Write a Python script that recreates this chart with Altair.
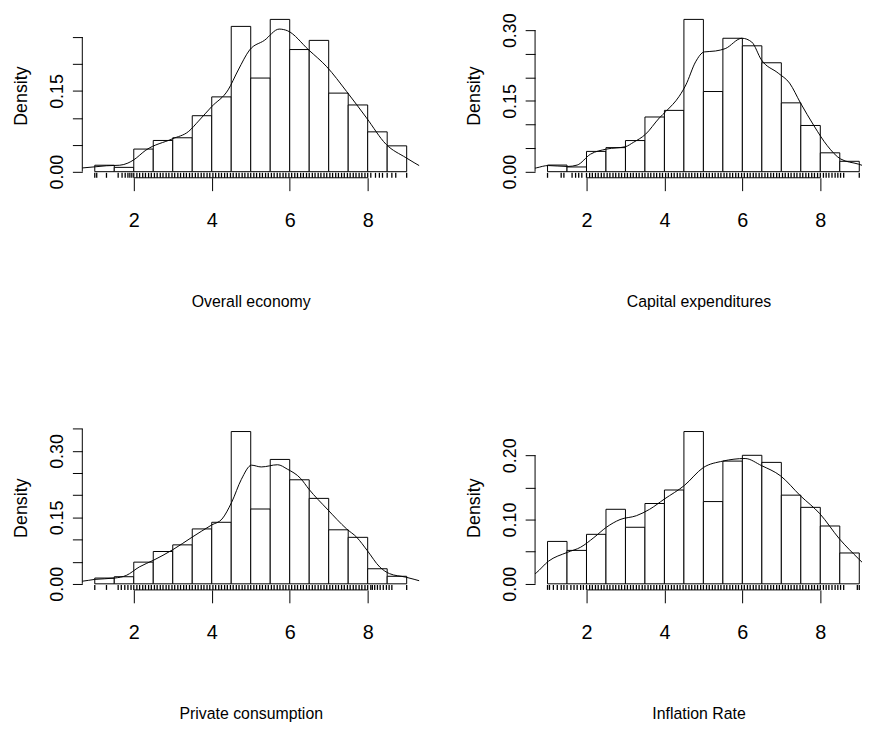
import altair as alt
import pandas as pd

# ---------------- data ----------------
bin_edges = [1.0, 1.5, 2.0, 2.5, 3.0, 3.5, 4.0, 4.5, 5.0, 5.5, 6.0, 6.5, 7.0, 7.5, 8.0, 8.5, 9.0]

titles = ["Overall economy", "Capital expenditures", "Private consumption", "Inflation Rate"]

overall_bars = [0.012, 0.008, 0.042, 0.058, 0.063, 0.104, 0.139, 0.270,
                0.174, 0.283, 0.227, 0.244, 0.146, 0.124, 0.074, 0.048]
capital_bars = [0.014, 0.010, 0.043, 0.051, 0.066, 0.116, 0.130, 0.323,
                0.170, 0.283, 0.267, 0.231, 0.146, 0.098, 0.040, 0.022]
private_bars = [0.013, 0.016, 0.049, 0.073, 0.088, 0.124, 0.139, 0.344,
                0.169, 0.281, 0.235, 0.193, 0.122, 0.105, 0.034, 0.017]
inflation_bars = [0.066, 0.052, 0.077, 0.116, 0.088, 0.125, 0.146, 0.237,
                  0.128, 0.191, 0.200, 0.189, 0.138, 0.119, 0.090, 0.048]

overall_dx = [0.55, 0.69, 1.0, 1.3, 1.64, 1.85, 2.0, 2.31, 2.99, 3.41, 3.66, 4.0, 4.42, 4.68,
              4.97, 5.35, 5.73, 5.94, 6.49, 6.95, 7.46, 7.97, 8.47, 8.98, 9.4]
overall_dy = [0.006, 0.007, 0.009, 0.011, 0.012, 0.016, 0.022, 0.040, 0.061, 0.075, 0.094, 0.121,
              0.152, 0.189, 0.226, 0.244, 0.265, 0.262, 0.226, 0.195, 0.149, 0.100, 0.051, 0.026, 0.008]

capital_dx = [0.6, 0.71, 1.02, 1.51, 1.76, 2.1, 2.52, 3.0, 3.2, 3.51, 3.87, 4.04, 4.38, 4.55,
              4.8, 5.02, 5.31, 5.56, 5.99, 6.24, 6.49, 6.92, 7.21, 7.49, 7.84, 8.18, 8.52, 8.98, 9.2]
capital_dy = [0.006, 0.008, 0.013, 0.011, 0.014, 0.037, 0.048, 0.053, 0.062, 0.079, 0.114, 0.128,
              0.160, 0.184, 0.233, 0.254, 0.256, 0.261, 0.283, 0.275, 0.237, 0.209, 0.188, 0.146,
              0.097, 0.055, 0.027, 0.016, 0.010]

private_dx = [0.55, 0.69, 1.0, 1.51, 1.81, 2.14, 2.5, 3.0, 3.49, 4.0, 4.26, 4.51, 4.76, 5.02,
              5.27, 5.69, 5.94, 6.28, 6.49, 6.96, 7.46, 7.72, 7.99, 8.31, 8.56, 8.98, 9.4]
private_dy = [0.005, 0.006, 0.010, 0.013, 0.019, 0.038, 0.053, 0.077, 0.105, 0.133, 0.146, 0.184,
              0.236, 0.268, 0.264, 0.269, 0.259, 0.238, 0.214, 0.169, 0.124, 0.105, 0.075, 0.038,
              0.023, 0.015, 0.005]

inflation_dx = [0.6, 0.71, 1.02, 1.51, 1.85, 2.19, 2.51, 2.86, 3.28, 3.62, 4.0, 4.51, 5.0, 5.5,
                6.07, 6.49, 6.98, 7.49, 7.99, 8.49, 8.98, 9.2]
inflation_dy = [0.012, 0.017, 0.035, 0.049, 0.057, 0.072, 0.088, 0.100, 0.106, 0.116, 0.132,
                0.153, 0.181, 0.191, 0.195, 0.184, 0.168, 0.137, 0.109, 0.070, 0.039, 0.026]

rug_core = [2.0, 2.08, 2.15, 2.23, 2.3, 2.38, 2.45, 2.53, 2.6, 2.68, 2.75, 2.83, 2.9, 2.98,
            3.05, 3.13, 3.2, 3.28, 3.35, 3.43, 3.5, 3.58, 3.65, 3.73, 3.8, 3.88, 3.95, 4.03,
            4.1, 4.18, 4.25, 4.33, 4.4, 4.48, 4.55, 4.63, 4.7, 4.78, 4.85, 4.93, 5.0, 5.08,
            5.15, 5.23, 5.3, 5.38, 5.45, 5.53, 5.6, 5.68, 5.75, 5.83, 5.9, 5.98, 6.05, 6.13,
            6.2, 6.28, 6.35, 6.43, 6.5, 6.58, 6.65, 6.73, 6.8, 6.88, 6.95, 7.03, 7.1, 7.18,
            7.25, 7.33, 7.4, 7.48, 7.55, 7.63, 7.7, 7.78, 7.85, 7.93, 8.0]
overall_rug = [1.0, 1.05, 1.3, 1.6, 1.7, 1.78, 1.85, 1.9, 1.95,
               8.08, 8.2, 8.3, 8.38, 8.5, 8.62, 8.72, 9.0]
capital_rug = [1.0, 1.35, 1.42, 1.63, 1.72, 1.8, 1.88,
               8.08, 8.15, 8.22, 8.3, 8.38, 8.45, 8.52, 8.6, 9.0]
private_rug = [1.0, 1.3, 1.6, 1.68, 1.77, 1.85, 1.93,
               8.08, 8.12, 8.18, 8.25, 8.32, 8.4, 8.48, 8.55, 8.62, 9.0]
inflation_rug = [1.0, 1.05, 1.15, 1.25, 1.35, 1.42, 1.5, 1.6, 1.68, 1.76, 1.85, 1.92,
                 8.08, 8.15, 8.22, 8.3, 8.38, 8.45, 8.52, 8.6, 8.95, 9.0]

overall_yticks = [0.0, 0.05, 0.10, 0.15, 0.20, 0.25]
capital_yticks = [0.0, 0.05, 0.10, 0.15, 0.20, 0.25, 0.30]
private_yticks = [0.0, 0.05, 0.10, 0.15, 0.20, 0.25, 0.30, 0.35]
inflation_yticks = [0.0, 0.05, 0.10, 0.15, 0.20]
overall_ylabels = ["0.00", "0.15"]
capital_ylabels = ["0.00", "0.15", "0.30"]
private_ylabels = ["0.00", "0.15", "0.30"]
inflation_ylabels = ["0.00", "0.10", "0.20"]
x_tick_values = [2, 4, 6, 8]

# ---------------- styling ----------------
REG = "'Liberation Sans', Arial, sans-serif"
X_MIN = 0.68


def panel(title, bars, dx, dy, rug_ends, yticks, ylabels, width, x_max):
    m = max(bars)
    y_lo, y_hi = -0.04 * m, 1.04 * m
    rug_top = y_lo + 0.03 * (y_hi - y_lo)
    xs = alt.Scale(domain=[X_MIN, x_max], nice=False, zero=False)
    ys = alt.Scale(domain=[y_lo, y_hi], nice=False, zero=False)
    label_list = "[" + ",".join("'%s'" % s for s in ylabels) + "]"

    x_axis = alt.Axis(
        values=x_tick_values, title=title, domain=False, grid=False, format="d",
        tickSize=13, tickColor="black", tickWidth=1,
        labelFont=REG, labelFontSize=20, labelColor="black", labelPadding=20,
        labelFlush=False,
        titleFont=REG, titleFontSize=16, titleFontWeight="normal", titleColor="black",
        titlePadding=64)
    y_axis = alt.Axis(
        values=yticks, title="Density", domain=False, grid=False,
        tickSize=10, tickColor="black", tickWidth=1,
        labelAngle=270, labelAlign="center", labelBaseline="alphabetic",
        labelPadding=10, labelFont=REG, labelFontSize=18, labelColor="black",
        labelExpr="indexof(%s, format(datum.value, '.2f')) >= 0 ? format(datum.value, '.2f') : ''" % label_list,
        titleFont=REG, titleFontSize=18, titleFontWeight="normal", titleColor="black",
        titlePadding=18)

    hist = pd.DataFrame({"x0": bin_edges[:-1], "x1": bin_edges[1:], "d": bars})
    bars_layer = alt.Chart(hist).mark_rect(fill="white", stroke="black", strokeWidth=1).encode(
        x=alt.X("x0:Q", scale=xs, axis=x_axis, title=title),
        x2="x1:Q",
        y=alt.Y("d:Q", scale=ys, axis=y_axis, title="Density"),
        y2=alt.datum(0),
    )

    dens = pd.DataFrame({"x": dx, "y": dy})
    dens_layer = alt.Chart(dens).mark_line(color="black", strokeWidth=1, clip=True,
                                           interpolate="monotone").encode(
        x=alt.X("x:Q", scale=xs, axis=x_axis, title=title),
        y=alt.Y("y:Q", scale=ys, axis=y_axis, title="Density"),
    )

    rug = pd.DataFrame({"r": sorted(rug_core + rug_ends), "y0": y_lo, "y1": rug_top})
    rug_layer = alt.Chart(rug).mark_rule(color="black", strokeWidth=1.3).encode(
        x=alt.X("r:Q", scale=xs, axis=x_axis, title=title),
        y=alt.Y("y0:Q", scale=ys, axis=y_axis, title="Density"),
        y2="y1:Q",
    )

    xline = pd.DataFrame({"a": [x_tick_values[0]], "b": [x_tick_values[-1]], "y": [y_lo]})
    xline_layer = alt.Chart(xline).mark_rule(color="black", strokeWidth=1).encode(
        x=alt.X("a:Q", scale=xs, axis=x_axis, title=title), x2="b:Q",
        y=alt.Y("y:Q", scale=ys, axis=y_axis, title="Density"),
    )

    yline = pd.DataFrame({"x": [X_MIN], "a": [yticks[0]], "b": [yticks[-1]]})
    yline_layer = alt.Chart(yline).mark_rule(color="black", strokeWidth=1).encode(
        x=alt.X("x:Q", scale=xs, axis=x_axis, title=title),
        y=alt.Y("a:Q", scale=ys, axis=y_axis, title="Density"), y2="b:Q",
    )

    return alt.layer(bars_layer, dens_layer, rug_layer, xline_layer, yline_layer).properties(
        width=width, height=166)


p1 = panel(titles[0], overall_bars, overall_dx, overall_dy, overall_rug,
           overall_yticks, overall_ylabels, 340, 9.32)
p2 = panel(titles[1], capital_bars, capital_dx, capital_dy, capital_rug,
           capital_yticks, capital_ylabels, 330, 9.07)
p3 = panel(titles[2], private_bars, private_dx, private_dy, private_rug,
           private_yticks, private_ylabels, 340, 9.32)
p4 = panel(titles[3], inflation_bars, inflation_dx, inflation_dy, inflation_rug,
           inflation_yticks, inflation_ylabels, 330, 9.07)

chart = alt.concat(
    p1, p2, p3, p4, columns=2,
    spacing={"row": 250, "column": 117},
    bounds="flush",
    padding={"left": 5, "top": 1, "right": 0, "bottom": 0},
    background="white",
).configure_view(stroke=None)

chart.save("out.html", embed_options={"renderer": "svg", "actions": False})
